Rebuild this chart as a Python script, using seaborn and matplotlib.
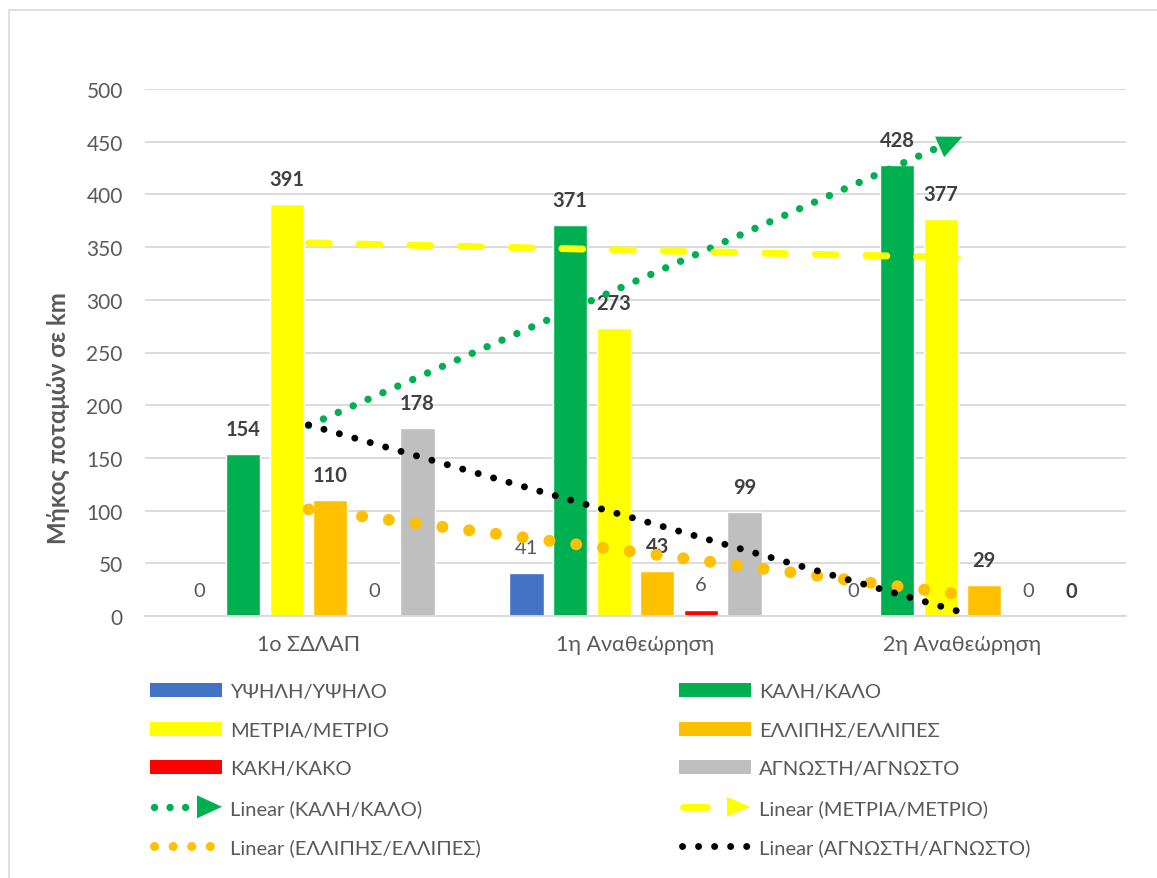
import numpy as np
import pandas as pd
import matplotlib
matplotlib.use("Agg")
import matplotlib.pyplot as plt
import seaborn as sns
from matplotlib.patches import Patch, Rectangle
from matplotlib.lines import Line2D
from matplotlib.legend_handler import HandlerBase

# ---------------- data ----------------
categories = ["1ο ΣΔΛΑΠ", "1η Αναθεώρηση", "2η Αναθεώρηση"]
series = ["ΥΨΗΛΗ/ΥΨΗΛΟ", "ΚΑΛΗ/ΚΑΛΟ", "ΜΕΤΡΙΑ/ΜΕΤΡΙΟ",
          "ΕΛΛΙΠΗΣ/ΕΛΛΙΠΕΣ", "ΚΑΚΗ/ΚΑΚΟ", "ΑΓΝΩΣΤΗ/ΑΓΝΩΣΤΟ"]
ypsili = [0, 41, 0]
kali = [154, 371, 428]
metria = [391, 273, 377]
ellipis = [110, 43, 29]
kaki = [0, 6, 0]
agnosti = [178, 99, 0]
values = [ypsili, kali, metria, ellipis, kaki, agnosti]
colors = ["#4472C4", "#00B050", "#FFFF00", "#FFC000", "#FF0000", "#BFBFBF"]
bold_series = [False, True, True, True, False, True]
yticks = list(range(0, 501, 50))
ylabel = "Μήκος ποταμών σε km"
trend_series = ["ΚΑΛΗ/ΚΑΛΟ", "ΜΕΤΡΙΑ/ΜΕΤΡΙΟ", "ΕΛΛΙΠΗΣ/ΕΛΛΙΠΕΣ", "ΑΓΝΩΣΤΗ/ΑΓΝΩΣΤΟ"]

df = pd.DataFrame([
    {"cat": c, "series": s, "val": v[i]}
    for s, v in zip(series, values) for i, c in enumerate(categories)
])

# ---------------- style ----------------
sns.set_style("white")
plt.rcParams["font.family"] = ["Lato", "Noto Sans", "DejaVu Sans"]
TXT = "#595959"
DARK = "#404040"
GRID = "#D9D9D9"
FS = 14.5

W, H = 1157, 879
fig = plt.figure(figsize=(W / 100, H / 100), dpi=100)
ax = fig.add_axes([145 / W, 1 - 617 / H, (1126 - 145) / W, (617 - 90) / H])

sns.barplot(data=df, x="cat", y="val", hue="series", order=categories,
            hue_order=series, palette=colors, saturation=1, width=0.8,
            gap=0.22, errorbar=None, legend=False, ax=ax, zorder=2)

ax.set_xlim(-0.5, 2.5)
ax.set_ylim(0, 500)
ax.set_yticks(yticks)
ax.grid(axis="y", color=GRID, lw=1.3, zorder=0)
ax.set_axisbelow(True)
for sp in ["left", "right", "top"]:
    ax.spines[sp].set_visible(False)
ax.spines["bottom"].set_color(GRID)
ax.spines["bottom"].set_linewidth(1.3)
ax.tick_params(axis="y", length=0, pad=16, labelsize=15, labelcolor=TXT)
ax.tick_params(axis="x", length=0, pad=13, labelsize=15.5, labelcolor=TXT)
ax.set_xlabel("")
ax.set_ylabel(ylabel, fontsize=17.3, fontweight="bold", color=TXT)
ax.yaxis.set_label_coords((70 - 145) / (1126 - 145), (617 - 418) / (617 - 90))

# ---------------- data labels ----------------
for cont, s_vals, b in zip(ax.containers, values, bold_series):
    for rect, v in zip(cont.patches, s_vals):
        xc = rect.get_x() + rect.get_width() / 2
        ax.annotate(f"{v}", xy=(xc, v), xytext=(0, 18), textcoords="offset points",
                    ha="center", va="center", fontsize=FS,
                    fontweight="bold" if b else "normal",
                    color=DARK if b else TXT, zorder=3)

# ---------------- trend lines (linear fits) ----------------
xs = np.arange(len(categories))
trend_styles = {
    "ΚΑΛΗ/ΚΑΛΟ": dict(color="#00B050", lw=5.3, ls=(0, (0.01, 2.2)), arrow=True),
    "ΜΕΤΡΙΑ/ΜΕΤΡΙΟ": dict(color="#FFFF00", lw=5.0, ls=(0, (3.0, 4.3)), arrow=True),
    "ΕΛΛΙΠΗΣ/ΕΛΛΙΠΕΣ": dict(color="#FFC000", lw=8.6, ls=(0, (0.01, 2.25)), arrow=False),
    "ΑΓΝΩΣΤΗ/ΑΓΝΩΣΤΟ": dict(color="#000000", lw=5.0, ls=(0, (0.01, 2.3)), arrow=False),
}
for name in trend_series:
    st = trend_styles[name]
    yv = np.array(values[series.index(name)], dtype=float)
    slope, inter = np.polyfit(xs, yv, 1)
    fit = slope * xs + inter
    ax.plot(xs, fit, color=st["color"], lw=st["lw"], linestyle=st["ls"],
            dash_capstyle="round", solid_capstyle="round", zorder=4)
    if st["arrow"]:
        x1 = xs[-1]
        x0 = x1 - 0.02
        ax.annotate("", xy=(x1, slope * x1 + inter), xytext=(x0, slope * x0 + inter),
                    arrowprops=dict(arrowstyle="-|>,head_length=1.0,head_width=0.45",
                                    mutation_scale=18, color=st["color"],
                                    shrinkA=0, shrinkB=0, lw=0.01),
                    zorder=5)


# ---------------- legend ----------------
class TrendHandler(HandlerBase):
    def __init__(self, color, lw, ls, xs_px, arrow=None, **kw):
        super().__init__(**kw)
        self.color, self.lw, self.ls, self.xs_px, self.arrow = color, lw, ls, xs_px, arrow

    def create_artists(self, legend, orig_handle, xdescent, ydescent, width,
                       height, fontsize, trans):
        y = height / 2 - ydescent
        x0 = -xdescent
        pts = [x0 + p * 0.72 for p in self.xs_px]
        line = Line2D(pts, [y, y], color=self.color, lw=self.lw, linestyle=self.ls,
                      dash_capstyle="round", solid_capstyle="round")
        line.set_transform(trans)
        arts = [line]
        if self.arrow is not None:
            xa0, xa1, hh = [a * 0.72 for a in self.arrow]
            tri = plt.Polygon([[x0 + xa0, y - hh / 2], [x0 + xa0, y + hh / 2], [x0 + xa1, y]],
                              closed=True, color=self.color, lw=0)
            tri.set_transform(trans)
            arts.append(tri)
        return arts


bar_handles = [Patch(facecolor=c, edgecolor="none") for c in colors]
t_handles = [Line2D([], [], color=trend_styles[n]["color"]) for n in trend_series]
t_labels = [f"Linear ({n})" for n in trend_series]

hmap = {
    t_handles[0]: TrendHandler("#00B050", 5.3, (0, (0.01, 2.1)), [4, 37.5],
                               arrow=(47, 72, 23)),
    t_handles[1]: TrendHandler("#FFFF00", 5.0, "-", [4, 28], arrow=(48, 71, 20)),
    t_handles[2]: TrendHandler("#FFC000", 6.5, (0, (0.01, 2.05)), [4, 62.5]),
    t_handles[3]: TrendHandler("#000000", 5.0, (0, (0.01, 2.3)), [3, 69.5]),
}

common = dict(frameon=False, fontsize=FS, labelcolor=TXT, handlelength=3.57,
              handleheight=0.7, handletextpad=0.4, borderpad=0, borderaxespad=0,
              labelspacing=1.07, loc="upper left", handler_map=hmap)

leg1 = fig.legend([bar_handles[0], bar_handles[2], bar_handles[4], t_handles[0], t_handles[2]],
                  [series[0], series[2], series[4], t_labels[0], t_labels[2]],
                  bbox_to_anchor=(150 / W, 1 - 684 / H), **common)
leg2 = fig.legend([bar_handles[1], bar_handles[3], bar_handles[5], t_handles[1], t_handles[3]],
                  [series[1], series[3], series[5], t_labels[1], t_labels[3]],
                  bbox_to_anchor=(679 / W, 1 - 684 / H), **common)

# chart border
fig.patches.append(Rectangle((9 / W, -0.2), 1.5, 1.2 - 11 / H, transform=fig.transFigure,
                             fill=False, ec=GRID, lw=1.2, zorder=0))

fig.savefig("out.png", dpi=100)
